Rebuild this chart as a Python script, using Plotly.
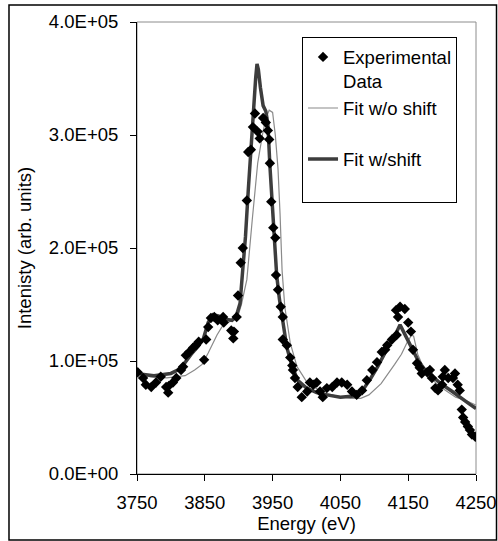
import plotly.graph_objects as go

# Experimental data (energy in eV, intensity)
exp_x = [3751, 3759, 3763, 3771, 3778, 3785, 3793, 3796, 3797, 3803, 3808, 3815, 3818,
         3822, 3827, 3833, 3837, 3841, 3849, 3852, 3855, 3859, 3864, 3869, 3877, 3878,
         3889, 3892, 3893, 3897, 3899, 3903, 3906, 3912, 3914, 3918, 3921, 3924, 3928,
         3931, 3936, 3940, 3943, 3945, 3946, 3948, 3951, 3954, 3955, 3958, 3962, 3965,
         3965, 3971, 3976, 3979, 3980, 3983, 3987, 3993, 4001, 4005, 4010, 4015, 4020,
         4024, 4030, 4038, 4045, 4052, 4060, 4067, 4074, 4082, 4089, 4097, 4104, 4111,
         4116, 4119, 4126, 4133, 4132, 4135, 4138, 4145, 4150, 4154, 4157, 4163, 4167,
         4170, 4178, 4182, 4185, 4190, 4194, 4200, 4201, 4204, 4209, 4216, 4219, 4223,
         4226, 4229, 4231, 4234, 4238, 4241, 4244, 4249]
exp_y = [90000, 85000, 79000, 77000, 81000, 86000, 77000, 72000, 78000, 81000, 85000,
         92000, 95000, 105000, 108000, 112000, 114000, 117000, 101000, 119000, 130000,
         138000, 139000, 136000, 139000, 134000, 127000, 120000, 126000, 139000, 158000,
         187000, 200000, 242000, 285000, 287000, 307000, 319000, 303000, 297000, 315000,
         311000, 304000, 296000, 275000, 241000, 218000, 209000, 176000, 163000, 148000,
         139000, 119000, 114000, 103000, 96000, 92000, 85000, 77000, 68000, 73000, 81000,
         79000, 81000, 73000, 68000, 76000, 77000, 81000, 81000, 79000, 73000, 70000,
         74000, 83000, 92000, 99000, 108000, 110000, 114000, 119000, 123000, 145000,
         139000, 148000, 146000, 134000, 126000, 110000, 98000, 94000, 89000, 90000,
         92000, 85000, 76000, 74000, 79000, 86000, 92000, 85000, 85000, 89000, 79000,
         74000, 57000, 50000, 46000, 42000, 39000, 35000, 33000]

# Fit without energy shift
fit0_x = [3750, 3770, 3794, 3810, 3821, 3835, 3846, 3855, 3862, 3868, 3875, 3883, 3892,
          3899, 3904, 3908, 3912, 3920, 3928, 3935, 3940, 3945, 3950, 3954, 3958, 3961,
          3964, 3968, 3976, 3986, 4001, 4024, 4045, 4065, 4080, 4092, 4110, 4130, 4140,
          4148, 4155, 4158, 4164, 4172, 4182, 4195, 4207, 4220, 4235, 4250]
fit0_y = [89000, 86000, 85000, 86000, 87000, 92000, 97000, 107000, 116000, 123000,
          130000, 134000, 136000, 140000, 150000, 160000, 172000, 225000, 275000, 300000,
          315000, 322000, 320000, 300000, 270000, 230000, 180000, 148000, 116000, 95000,
          81000, 72000, 69000, 67000, 67000, 70000, 80000, 97000, 106000, 116000, 123000,
          122000, 106000, 95000, 86000, 78000, 73000, 68000, 65000, 61000]

# Fit with energy shift
fit1_x = [3750, 3760, 3775, 3790, 3800, 3810, 3820, 3830, 3840, 3848, 3855, 3862, 3870,
          3880, 3890, 3896, 3902, 3906, 3910, 3914, 3918, 3922, 3925, 3927, 3929, 3932,
          3936, 3940, 3943, 3946, 3949, 3952, 3956, 3960, 3965, 3971, 3979, 3987, 4000,
          4015, 4030, 4050, 4070, 4085, 4095, 4105, 4120, 4130, 4138, 4146, 4154, 4165,
          4175, 4188, 4198, 4215, 4228, 4240, 4250]
fit1_y = [90000, 88000, 87000, 88000, 89000, 92000, 98000, 106000, 113000, 120000,
          134000, 141000, 140000, 137000, 136000, 139000, 151000, 181000, 210000, 250000,
          290000, 330000, 350000, 363000, 358000, 342000, 326000, 321000, 310000, 273000,
          242000, 207000, 176000, 155000, 137000, 112000, 95000, 83000, 76000, 72000,
          70000, 68000, 69000, 76000, 85000, 95000, 112000, 122000, 132000, 122000,
          112000, 100000, 92000, 85000, 80000, 73000, 67000, 62000, 58000]

x_ticks = [3750, 3850, 3950, 4050, 4150, 4250]
y_ticks = [0, 100000, 200000, 300000, 400000]
y_labels = ["0.0E+00", "1.0E+05", "2.0E+05", "3.0E+05", "4.0E+05"]

fnt = dict(family="Liberation Sans, Arial, sans-serif", size=18.5, color="black")

fig = go.Figure()
fig.add_trace(go.Scatter(x=fit0_x, y=fit0_y, mode="lines", name="Fit w/o shift<br> ",
                         line=dict(color="#8a8a8a", width=1.2), legendrank=2))
fig.add_trace(go.Scatter(x=fit1_x, y=fit1_y, mode="lines", name="Fit w/shift<br> ",
                         line=dict(color="#3d3d3d", width=3.5), legendrank=3))
fig.add_trace(go.Scatter(x=exp_x, y=exp_y, mode="markers", name="Experimental<br>Data",
                         marker=dict(symbol="diamond", size=8, color="black"),
                         legendrank=1))

fig.update_layout(
    width=498, height=541,
    margin=dict(l=137, r=22, t=22, b=67),
    paper_bgcolor="white", plot_bgcolor="white",
    font=fnt,
    showlegend=True,
    hovermode=False,
    legend=dict(x=0.4868, y=0.9660, xanchor="left", yanchor="top",
                bgcolor="white", bordercolor="black", borderwidth=1,
                valign="top", font=fnt, itemwidth=30),
    xaxis=dict(range=[3750, 4250], tickvals=x_ticks, showgrid=False, zeroline=False,
               showline=True, linecolor="black", linewidth=1, automargin=False,
               ticks="outside", ticklen=6, tickcolor="black", ticklabelstandoff=6,
               title=dict(text="Energy (eV)", font=fnt, standoff=2)),
    yaxis=dict(range=[0, 400000], tickvals=y_ticks, ticktext=y_labels, showgrid=False,
               zeroline=False, showline=True, linecolor="black", linewidth=1,
               automargin=False, ticks="outside", ticklen=6, tickcolor="black",
               ticklabelstandoff=8,
               title=dict(text="Intenisty (arb. units)", font=fnt, standoff=12)),
    shapes=[
        # grey frame of the plot area (top and right edges)
        dict(type="rect", xref="paper", yref="paper", x0=0, x1=1, y0=0, y1=1,
             line=dict(color="#8c8c8c", width=1), layer="below"),
        # outer chart border
        dict(type="rect", xref="paper", yref="paper", x0=-0.3776, x1=1.0605,
             y0=-0.146, y1=1.0376, line=dict(color="black", width=1.5)),
    ],
)

fig.write_html("out.html", config={"displayModeBar": False},
               post_script="document.body.style.margin='0';")
